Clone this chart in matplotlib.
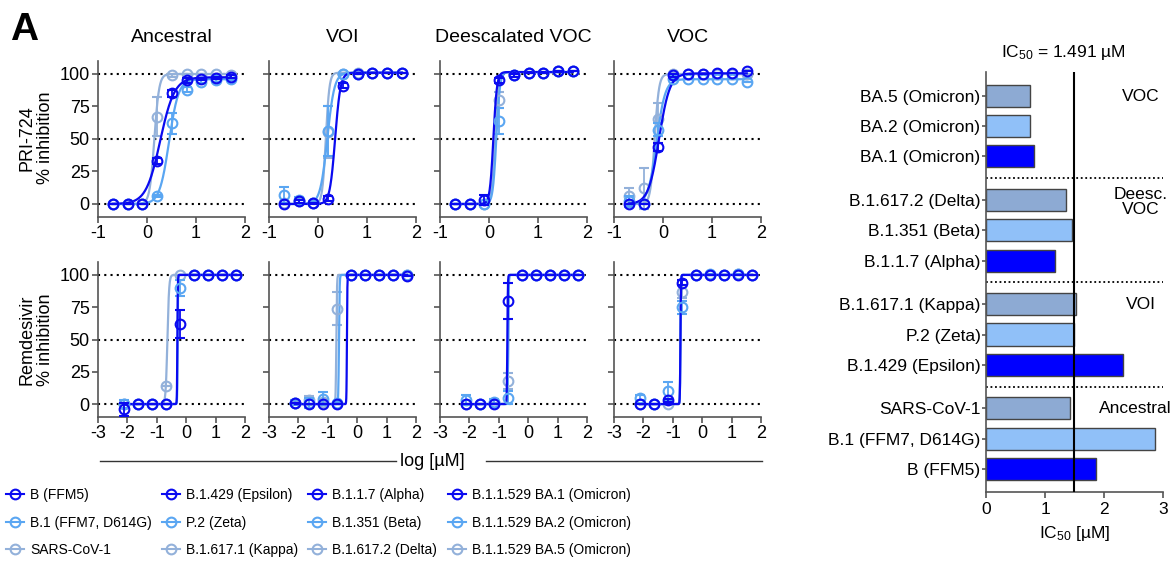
import numpy as np
import matplotlib
matplotlib.use("Agg")
import matplotlib.pyplot as plt
from matplotlib.lines import Line2D
from matplotlib import font_manager

plt.rcParams["font.family"] = ["Liberation Sans", "DejaVu Sans"]
plt.rcParams["mathtext.default"] = "regular"
plt.rcParams["axes.unicode_minus"] = False

W, H = 1174, 561

DARK = "#0a0af0"
MID = "#5aa6f2"
LIGHT = "#93b1da"
BAR_DARK = "#0000ff"
BAR_MID = "#90c0f8"
BAR_LIGHT = "#8daad3"
colors = [DARK, MID, LIGHT]

# concentrations (µM)
conc_pri = [0.2, 0.4, 0.8, 1.6, 3.2, 6.4, 12.8, 25.6, 51.2]
conc_rem = [0.00762, 0.0229, 0.0686, 0.206, 0.617, 1.85, 5.56, 16.7, 50.0]

panel_titles = ["Ancestral", "VOI", "Deescalated VOC", "VOC"]

# PRI-724: % inhibition, per panel: [dark, mid, light]
pri_y = [
    [[0, 0, 0, 33, 85, 95, 96, 97, 98],
     [0, 0, 0, 6, 62, 88, 94, 95, 96],
     [0, 0, 0, 67, 99, 100, 100, 100, 99]],
    [[0, 2, 1, 4, 91, 100, 101, 101, 101],
     [7, 3, 1, 56, 100, 100, 101, 101, 101],
     [1, 2, 1, 55, 100, 101, 101, 101, 101]],
    [[0, 0, 3, 95, 99, 101, 101, 102, 102],
     [0, 0, 0, 64, 99, 101, 101, 102, 102],
     [0, 0, 0, 80, 99, 101, 101, 102, 102]],
    [[0, 0, 44, 99, 100, 100, 101, 101, 102],
     [2, 0, 57, 96, 96, 96, 96, 96, 94],
     [6, 12, 65, 100, 100, 100, 100, 100, 100]],
]
pri_err = [
    [[0, 0, 0, 2, 3, 2, 1, 1, 1],
     [0, 0, 0, 1, 8, 2, 1, 1, 1],
     [0, 0, 0, 15, 1, 0, 0, 0, 0]],
    [[0, 1, 0, 2, 2, 0, 0, 0, 0],
     [6, 2, 1, 19, 0, 0, 0, 0, 0],
     [0, 2, 0, 20, 0, 0, 0, 0, 0]],
    [[0, 0, 4, 2, 1, 0, 0, 0, 0],
     [0, 0, 0, 10, 1, 0, 0, 0, 0],
     [0, 0, 0, 6, 1, 0, 0, 0, 0]],
    [[0, 0, 3, 1, 0, 0, 0, 0, 0],
     [4, 0, 5, 1, 0, 0, 0, 0, 0],
     [6, 16, 13, 1, 0, 0, 0, 0, 0]],
]
# fitted curve parameters: (logIC50, hill slope, top)
pri_fit = [
    [(0.27, 3.0, 97.5), (0.45, 4.5, 96), (0.15, 9, 100)],
    [(0.35, 8, 101), (0.19, 6, 101), (0.16, 12, 101)],
    [(0.09, 12, 101.5), (0.15, 12, 101.5), (0.13, 12, 101.5)],
    [(-0.08, 4, 100.5), (-0.13, 5, 96), (-0.17, 10, 100)],
]

# Remdesivir
rem_y = [
    [[-4, 0, 0, 0, 62, 100, 100, 100, 100],
     [0, 0, 0, 0, 90, 100, 100, 100, 100],
     [0, 0, 0, 14, 100, 100, 100, 100, 100]],
    [[1, 0, 0, 0, 100, 100, 100, 100, 99],
     [1, 1, 4, 1, 100, 100, 100, 100, 100],
     [1, 3, 2, 74, 100, 100, 100, 100, 100]],
    [[0, 0, 0, 80, 100, 100, 100, 100, 100],
     [3, 0, 2, 5, 100, 100, 100, 100, 100],
     [0, 0, 1, 18, 100, 100, 100, 100, 100]],
    [[0, 0, 3, 94, 100, 100, 100, 100, 100],
     [5, 0, 10, 75, 100, 101, 100, 101, 100],
     [0, 0, 0, 87, 100, 100, 100, 101, 100]],
]
rem_err = [
    [[5, 0, 0, 0, 11, 0, 0, 0, 0],
     [3, 0, 0, 0, 6, 0, 0, 0, 0],
     [0, 0, 0, 0, 0, 0, 0, 0, 0]],
    [[0, 0, 0, 0, 0, 0, 0, 0, 0],
     [2, 4, 5, 1, 0, 0, 0, 0, 0],
     [1, 3, 0, 13, 0, 0, 0, 0, 0]],
    [[0, 0, 0, 14, 0, 0, 0, 0, 0],
     [4, 0, 2, 5, 0, 0, 0, 0, 0],
     [0, 0, 0, 6, 0, 0, 0, 0, 0]],
    [[0, 0, 1, 2, 0, 0, 0, 0, 0],
     [2, 0, 7, 5, 0, 0, 0, 0, 0],
     [0, 0, 0, 5, 0, 0, 0, 0, 0]],
]
rem_fit = [
    [(-0.30, 60, 100), (-0.29, 60, 100), (-0.64, 15, 100)],
    [(-0.35, 60, 100), (-0.62, 40, 100), (-0.71, 40, 100)],
    [(-0.71, 50, 100), (-0.68, 50, 100), (-0.68, 50, 100)],
    [(-0.74, 50, 100), (-0.74, 50, 100), (-0.74, 50, 100)],
]

legend_cols = [
    ["B (FFM5)", "B.1 (FFM7, D614G)", "SARS-CoV-1"],
    ["B.1.429 (Epsilon)", "P.2 (Zeta)", "B.1.617.1 (Kappa)"],
    ["B.1.1.7 (Alpha)", "B.1.351 (Beta)", "B.1.617.2 (Delta)"],
    ["B.1.1.529 BA.1 (Omicron)", "B.1.1.529 BA.2 (Omicron)", "B.1.1.529 BA.5 (Omicron)"],
]

# IC50 bar chart (bottom to top)
bar_labels = ["B (FFM5)", "B.1 (FFM7, D614G)", "SARS-CoV-1",
              "B.1.429 (Epsilon)", "P.2 (Zeta)", "B.1.617.1 (Kappa)",
              "B.1.1.7 (Alpha)", "B.1.351 (Beta)", "B.1.617.2 (Delta)",
              "BA.1 (Omicron)", "BA.2 (Omicron)", "BA.5 (Omicron)"]
bar_ic50 = [1.86, 2.87, 1.43, 2.33, 1.49, 1.52, 1.17, 1.46, 1.36, 0.81, 0.75, 0.75]
group_names = ["Ancestral", "VOI", "Deesc.\nVOC", "VOC"]
ic50_ref = 1.491


def has_font(name):
    try:
        font_manager.findfont(font_manager.FontProperties(family=name),
                              fallback_to_default=False)
        return True
    except ValueError:
        return False


def px_axes(x0, y0, x1, y1):
    return fig.add_axes([x0 / W, 1 - y1 / H, (x1 - x0) / W, (y1 - y0) / H])


def style(ax, size):
    for s in ["top", "right"]:
        ax.spines[s].set_visible(False)
    for s in ["left", "bottom"]:
        ax.spines[s].set_color("#555555")
        ax.spines[s].set_linewidth(1.2)
    ax.tick_params(colors="#555555", labelcolor="black", length=4, width=1.2,
                   labelsize=size, pad=2)


def logistic(x, p):
    logic50, hill, top = p
    return top / (1 + 10 ** ((logic50 - x) * hill))


fig = plt.figure(figsize=(W / 100, H / 100), dpi=100)

lefts = [98, 269, 440, 614]
rows = [(61, 217, conc_pri, pri_y, pri_err, pri_fit, (-1, 2)),
        (262, 417, conc_rem, rem_y, rem_err, rem_fit, (-3, 2))]

for r, (top_px, bot_px, conc, ys, errs, fits, xl) in enumerate(rows):
    x = np.log10(conc)
    for p in range(4):
        ax = px_axes(lefts[p], top_px, lefts[p] + 147, bot_px)
        style(ax, 13)
        for lv in (0, 50, 100):
            ax.axhline(lv, color="black", ls=(0, (1, 2)), lw=1.5, zorder=1)
        for k in (2, 1, 0):
            c = colors[k]
            xf = np.linspace(x[0], x[-1], 600)
            ax.plot(xf, logistic(xf, fits[p][k]), color=c, lw=1.6, zorder=2 + (2 - k))
            ax.errorbar(x, ys[p][k], yerr=errs[p][k], fmt="o", mfc="none", mec=c,
                        ms=7, mew=1.5, ecolor=c, elinewidth=1.3, capsize=3.5,
                        capthick=1.3, zorder=3 + (2 - k))
        ax.set_xlim(*xl)
        ax.set_ylim(-10, 110)
        ax.set_xticks(range(xl[0], xl[1] + 1))
        ax.set_yticks([0, 25, 50, 75, 100])
        if p > 0:
            ax.set_yticklabels([])
        if r == 0:
            ax.set_title(panel_titles[p], fontsize=14, pad=14)

fig.text(36 / W, 1 - 138 / H, "PRI-724\n% inhibition", rotation=90, ha="center",
         va="center", fontsize=13, multialignment="center", linespacing=1.1)
fig.text(36 / W, 1 - 340 / H, "Remdesivir\n% inhibition", rotation=90, ha="center",
         va="center", fontsize=13, multialignment="center", linespacing=1.1)
fig.text(10 / W, 1 - 30 / H, "A", fontsize=28, fontweight="bold", va="center", ha="left")

fig.text(432 / W, 1 - 461 / H, "log [µM]", fontsize=13, ha="center", va="center")
fig.add_artist(Line2D([100 / W, 396 / W], [1 - 461 / H] * 2, color="#333333", lw=1))
fig.add_artist(Line2D([486 / W, 762 / W], [1 - 461 / H] * 2, color="#333333", lw=1))

if has_font("Liberation Sans Narrow"):
    leg_family, leg_size, leg_x = "Liberation Sans Narrow", 11, [6, 126, 247, 371]
else:
    leg_family, leg_size, leg_x = "Liberation Sans", 10, [6, 162, 308, 448]
for j, labels in enumerate(legend_cols):
    handles = [Line2D([], [], color=colors[k], marker="o", mfc="none", ms=7, mew=1.5, lw=1.5)
               for k in range(3)]
    fig.legend(handles, labels, loc="upper left", bbox_to_anchor=(leg_x[j] / W, 1 - 488 / H),
               frameon=False, borderpad=0, borderaxespad=0, handlelength=1.3,
               handletextpad=0.45, labelspacing=0.98,
               prop={"family": leg_family, "size": leg_size})

# IC50 bars
bx = px_axes(986, 72, 1163, 492)
n = len(bar_ic50)
pos = np.array([i + (i // 3) * 0.45 for i in range(n)])
bar_cols = [[BAR_DARK, BAR_MID, BAR_LIGHT][i % 3] for i in range(n)]
bx.barh(pos, bar_ic50, height=0.73, color=bar_cols, edgecolor="#444444", lw=1, zorder=2)
bx.axvline(ic50_ref, color="black", lw=1.5, zorder=3)
for g in range(1, 4):
    sep = (pos[3 * g - 1] + pos[3 * g]) / 2
    bx.plot([0, 3], [sep, sep], color="black", ls=(0, (1, 1.5)), lw=1.3, clip_on=False, zorder=1)
for g in range(4):
    yy = pos[3 * g + 2] if g != 2 else pos[3 * g + 2] - 0.05
    if g == 0:
        bx.text(3.15, yy, group_names[g], ha="right", va="center", fontsize=12.5,
                clip_on=False)
    else:
        bx.text(2.62, yy, group_names[g], ha="center", va="center", fontsize=12.5,
                linespacing=1.0, clip_on=False)
style(bx, 12.5)
bx.set_xlim(0, 3)
bx.set_ylim(pos[0] - 0.77, pos[-1] + 0.8)
bx.set_yticks(pos)
bx.set_yticklabels(bar_labels)
bx.set_xticks([0, 1, 2, 3])
bx.tick_params(axis="y", length=3, pad=1)
bx.tick_params(axis="x", length=4, pad=3)
bx.set_xlabel("IC$_{50}$ [µM]", fontsize=12.5, labelpad=5)
fig.text(1063 / W, 1 - 52 / H, "IC$_{50}$ = 1.491 µM", ha="center", va="center", fontsize=12.5)

fig.savefig("out.png", dpi=100)
